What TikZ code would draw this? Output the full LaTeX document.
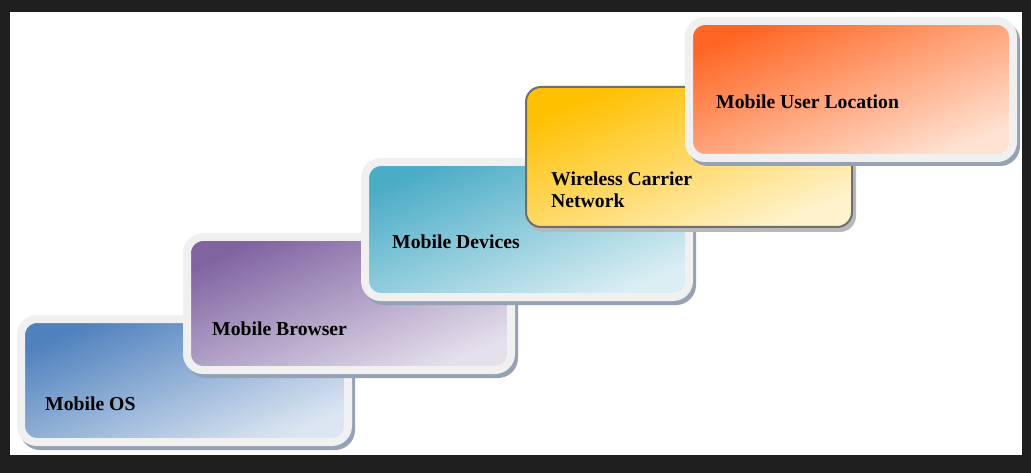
\documentclass[tikz,border=0pt]{standalone}
\usepackage{fontspec}
\setmainfont{Liberation Serif}
\usetikzlibrary{positioning}
\definecolor{screenbg}{HTML}{1E1E1E}
\definecolor{framegray}{HTML}{F0F0F0}
\definecolor{shadowblue}{HTML}{95A2B6}
\definecolor{bordergray}{HTML}{6E6E6E}
\definecolor{lightshadow}{HTML}{B8B8B8}
\definecolor{osdark}{HTML}{4F81BD}
\definecolor{oslight}{HTML}{DCE6F2}
\definecolor{browserdark}{HTML}{8064A2}
\definecolor{browserlight}{HTML}{E5E0EC}
\definecolor{devicesdark}{HTML}{4BACC6}
\definecolor{deviceslight}{HTML}{DAEEF3}
\definecolor{carrierdark}{HTML}{FFC000}
\definecolor{carrierlight}{HTML}{FFF2CC}
\definecolor{locationdark}{HTML}{FF6624}
\definecolor{locationlight}{HTML}{FFE2D2}
\tikzset{
  box shadow/.style 2 args={preaction={fill=#1, draw=#1, line width=#2, transform canvas={shift={(3pt,-4pt)}}}},
  shade box/.style 2 args={top color=#1, bottom color=#2, shading angle=23},
  framed box/.style={rectangle, inner sep=0pt, outer sep=0pt, anchor=north west, rounded corners=16pt, draw=framegray, line width=8pt, box shadow={shadowblue}{8pt}},
  lined box/.style={rectangle, inner sep=0pt, outer sep=0pt, anchor=north west, rounded corners=15pt, draw=bordergray, line width=2pt, box shadow={lightshadow}{2pt}},
  box label/.style={anchor=west, inner sep=0pt, align=left, font=\fontsize{19.7}{22}\selectfont\bfseries}
}
\begin{document}
\begin{tikzpicture}[x=1pt,y=-1pt]
\useasboundingbox (0,0) rectangle (1031,473);
\fill[screenbg] (0,0) rectangle (1031,473);
\fill[white] (10,12) rectangle (1022,455);

\node[framed box, shade box={osdark}{oslight}, minimum width=327pt, minimum height=123pt] (os) at (21,319) {};
\node[box label] (oslabel) at (45,404) {Mobile OS};

\node[framed box, shade box={browserdark}{browserlight}, minimum width=324pt, minimum height=133pt] (browser) at (187,237) {};
\node[box label] (browserlabel) at (212,329) {Mobile Browser};

\node[framed box, shade box={devicesdark}{deviceslight}, minimum width=324pt, minimum height=135pt] (devices) at (365,162) {};
\node[box label] (deviceslabel) at (392,242) {Mobile Devices};

\node[lined box, shade box={carrierdark}{carrierlight}, minimum width=326pt, minimum height=140pt] (carrier) at (526,87) {};
\node[box label] (carrierlabel) at (551,190) {Wireless Carrier\\Network};

\node[framed box, shade box={locationdark}{locationlight}, minimum width=324pt, minimum height=137pt] (location) at (689,21) {};
\node[box label] (locationlabel) at (716,102) {Mobile User Location};
\end{tikzpicture}
\end{document}
